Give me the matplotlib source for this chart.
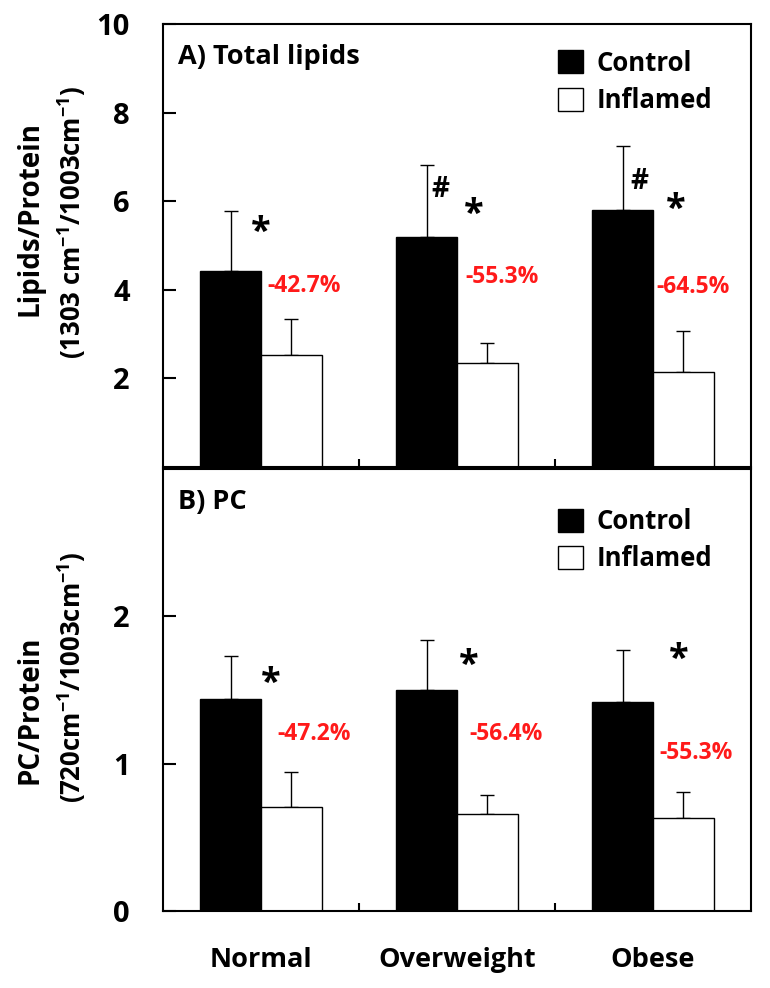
import matplotlib
matplotlib.use("Agg")
import matplotlib.pyplot as plt
import numpy as np
from matplotlib.patches import Patch

plt.rcParams["font.family"] = ["Open Sans", "DejaVu Sans"]
plt.rcParams["font.weight"] = "bold"
plt.rcParams["mathtext.fontset"] = "custom"
plt.rcParams["mathtext.rm"] = "Open Sans:bold"
plt.rcParams["mathtext.bf"] = "Open Sans:bold"
plt.rcParams["mathtext.default"] = "bf"

groups = ["Normal", "Overweight", "Obese"]

lipids_control = [4.42, 5.20, 5.81]
lipids_control_err = [1.37, 1.61, 1.44]
lipids_inflamed = [2.53, 2.34, 2.15]
lipids_inflamed_err = [0.82, 0.47, 0.92]
lipids_change = ["-42.7%", "-55.3%", "-64.5%"]
lipids_hash = [False, True, True]

pc_control = [1.44, 1.50, 1.42]
pc_control_err = [0.29, 0.34, 0.35]
pc_inflamed = [0.706, 0.655, 0.634]
pc_inflamed_err = [0.235, 0.135, 0.175]
pc_change = ["-47.2%", "-56.4%", "-55.3%"]

# annotation positions (offset from group centre, data y)
lipids_star = [(0.00, 5.28), (0.085, 5.70), (0.116, 5.81)]
lipids_hashpos = [None, (-0.085, 6.26), (-0.07, 6.45)]
lipids_pct = [(0.22, 4.09), (0.23, 4.28), (0.205, 4.06)]
pc_star = [(0.05, 1.54), (0.06, 1.66), (0.13, 1.705)]
pc_pct = [(0.27, 1.20), (0.25, 1.20), (0.22, 1.07)]

W, H = 770, 988
fig = plt.figure(figsize=(W / 100, H / 100), dpi=100)


def ax_rect(left, top, right, bottom):
    return [left / W, 1 - bottom / H, (right - left) / W, (bottom - top) / H]


ax1 = fig.add_axes(ax_rect(163, 24, 751, 467))
ax2 = fig.add_axes(ax_rect(163, 469, 751, 911))

x = np.arange(len(groups))
bw = 0.31


def draw_panel(ax, ctrl, ctrl_err, infl, infl_err, ylim, yticks, title, leg_y):
    ax.bar(x - bw / 2, ctrl, bw, color="black", edgecolor="black", linewidth=1, zorder=2)
    ax.bar(x + bw / 2, infl, bw, color="white", edgecolor="black", linewidth=1, zorder=2)
    ax.errorbar(x - bw / 2, ctrl, yerr=[np.zeros(3), ctrl_err], fmt="none",
                ecolor="black", elinewidth=1, capsize=5, capthick=1, zorder=1)
    ax.errorbar(x + bw / 2, infl, yerr=[np.zeros(3), infl_err], fmt="none",
                ecolor="black", elinewidth=1, capsize=5, capthick=1, zorder=1)
    ax.set_xlim(-0.5, 2.5)
    ax.set_ylim(*ylim)
    ax.set_yticks(yticks)
    ax.tick_params(axis="y", direction="in", length=9, width=1.5, labelsize=21, pad=24)
    ax.set_xticks([0.5, 1.5])
    ax.set_xticklabels([])
    ax.tick_params(axis="x", direction="in", length=6, width=1.5)
    for s in ax.spines.values():
        s.set_linewidth(1.5)
    ax.text(0.025, 0.925, title, transform=ax.transAxes, fontsize=19.5,
            fontweight="bold", ha="left", va="center")
    handles = [Patch(facecolor="black", edgecolor="black", label="Control"),
               Patch(facecolor="white", edgecolor="black", label="Inflamed")]
    ax.legend(handles=handles, loc="upper left", bbox_to_anchor=(0.645, leg_y),
              frameon=False, fontsize=18.5, handlelength=1.0, handleheight=1.0,
              handletextpad=0.5, labelspacing=0.4, borderaxespad=0.2)


draw_panel(ax1, lipids_control, lipids_control_err, lipids_inflamed,
           lipids_inflamed_err, (0, 10), [2, 4, 6, 8, 10], "A) Total lipids", 0.977)
draw_panel(ax2, pc_control, pc_control_err, pc_inflamed, pc_inflamed_err,
           (0, 3), [0, 1, 2], "B) PC", 0.947)

for i in range(3):
    ax1.text(i + lipids_star[i][0], lipids_star[i][1], "*", fontsize=26,
             ha="center", va="center")
    if lipids_hash[i]:
        ax1.text(i + lipids_hashpos[i][0], lipids_hashpos[i][1], "#", fontsize=20,
                 ha="center", va="center")
    ax1.text(i + lipids_pct[i][0], lipids_pct[i][1], lipids_change[i], fontsize=16.5,
             color="#ff1a1a", ha="center", va="center")
    ax2.text(i + pc_star[i][0], pc_star[i][1], "*", fontsize=26,
             ha="center", va="center")
    ax2.text(i + pc_pct[i][0], pc_pct[i][1], pc_change[i], fontsize=16.5,
             color="#ff1a1a", ha="center", va="center")

for i, g in enumerate(groups):
    ax2.text(i, -0.33, g, fontsize=19.5, ha="center", va="center")

fig.text(30 / W, 1 - 218 / H, "Lipids/Protein", rotation=90, fontsize=20,
         ha="center", va="center")
fig.text(72 / W, 1 - 222 / H, "(1303 cm$^{-1}$/1003cm$^{-1}$)", rotation=90,
         fontsize=18.5, ha="center", va="center")
fig.text(30 / W, 1 - 710 / H, "PC/Protein", rotation=90, fontsize=20,
         ha="center", va="center")
fig.text(72 / W, 1 - 677 / H, "(720cm$^{-1}$/1003cm$^{-1}$)", rotation=90,
         fontsize=18.5, ha="center", va="center")

fig.savefig("out.png", dpi=100)
